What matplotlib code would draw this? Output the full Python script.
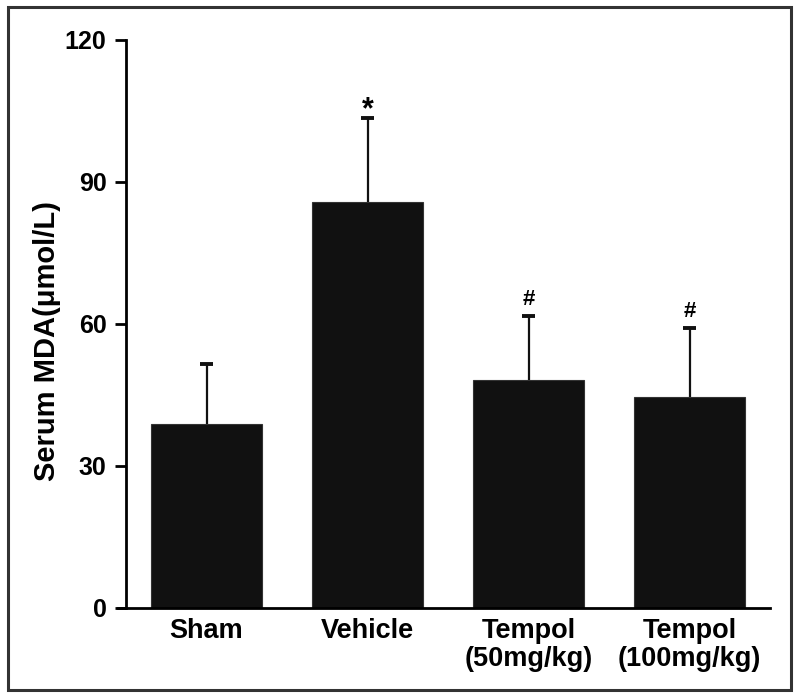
import numpy as np
import matplotlib.pyplot as plt
from matplotlib.patches import Rectangle

plt.rcParams['font.family'] = ['Liberation Sans', 'DejaVu Sans']
plt.rcParams['font.weight'] = 'bold'

groups = ["Sham", "Vehicle", "Tempol\n(50mg/kg)", "Tempol\n(100mg/kg)"]
mda = [38.9, 85.8, 48.2, 44.6]
sem = [12.6, 17.7, 13.5, 14.6]
marks = ["", "*", "#", "#"]

fig = plt.figure(figsize=(8, 6.98), dpi=100)
ax = fig.add_axes([0.1475, 0.129, 0.815, 0.8137])

x = np.arange(len(groups))
top = np.array(mda) + np.array(sem)
ax.bar(x, mda, width=0.685, color="#111111", edgecolor="#333333", linewidth=0.8, zorder=2)
# upper error bars only
ax.vlines(x, mda, top, color="#111111", linewidth=1.6, zorder=1)
ax.hlines(top, x - 0.042, x + 0.042, color="#111111", linewidth=2.8, zorder=1)

for xi, t, s in zip(x, top, marks):
    if s == "*":
        ax.text(xi, t - 1.5, s, ha="center", va="bottom", fontsize=22, fontweight="bold")
    elif s:
        ax.text(xi, t + 1.2, s, ha="center", va="bottom", fontsize=16, fontweight="bold")

# x axis runs a little past the y axis on the left
ax.set_xlim(-0.55, 3.5)
ax.set_ylim(0, 120)
ax.spines["left"].set_position(("data", -0.5))
ax.set_yticks([0, 30, 60, 90, 120])
ax.set_xticks(x)
ax.set_xticklabels(groups, fontsize=19.5, fontweight="bold", linespacing=1.1)
ax.tick_params(axis="y", labelsize=18, length=8, width=2, pad=6)
ax.tick_params(axis="x", length=0, pad=7)
for lab in ax.get_yticklabels():
    lab.set_fontweight("bold")
ax.set_ylabel("Serum MDA(μmol/L)", fontsize=21, fontweight="bold")
ax.yaxis.set_label_coords(-0.088, 0.47)

ax.spines["top"].set_visible(False)
ax.spines["right"].set_visible(False)
ax.spines["left"].set_linewidth(2)
ax.spines["bottom"].set_linewidth(2)

# outer frame around the figure
fig.patches.append(Rectangle((0.01, 0.0115), 0.979, 0.978, transform=fig.transFigure,
                             fill=False, edgecolor="#333333", linewidth=2.2))

fig.savefig("out.png", dpi=100)
